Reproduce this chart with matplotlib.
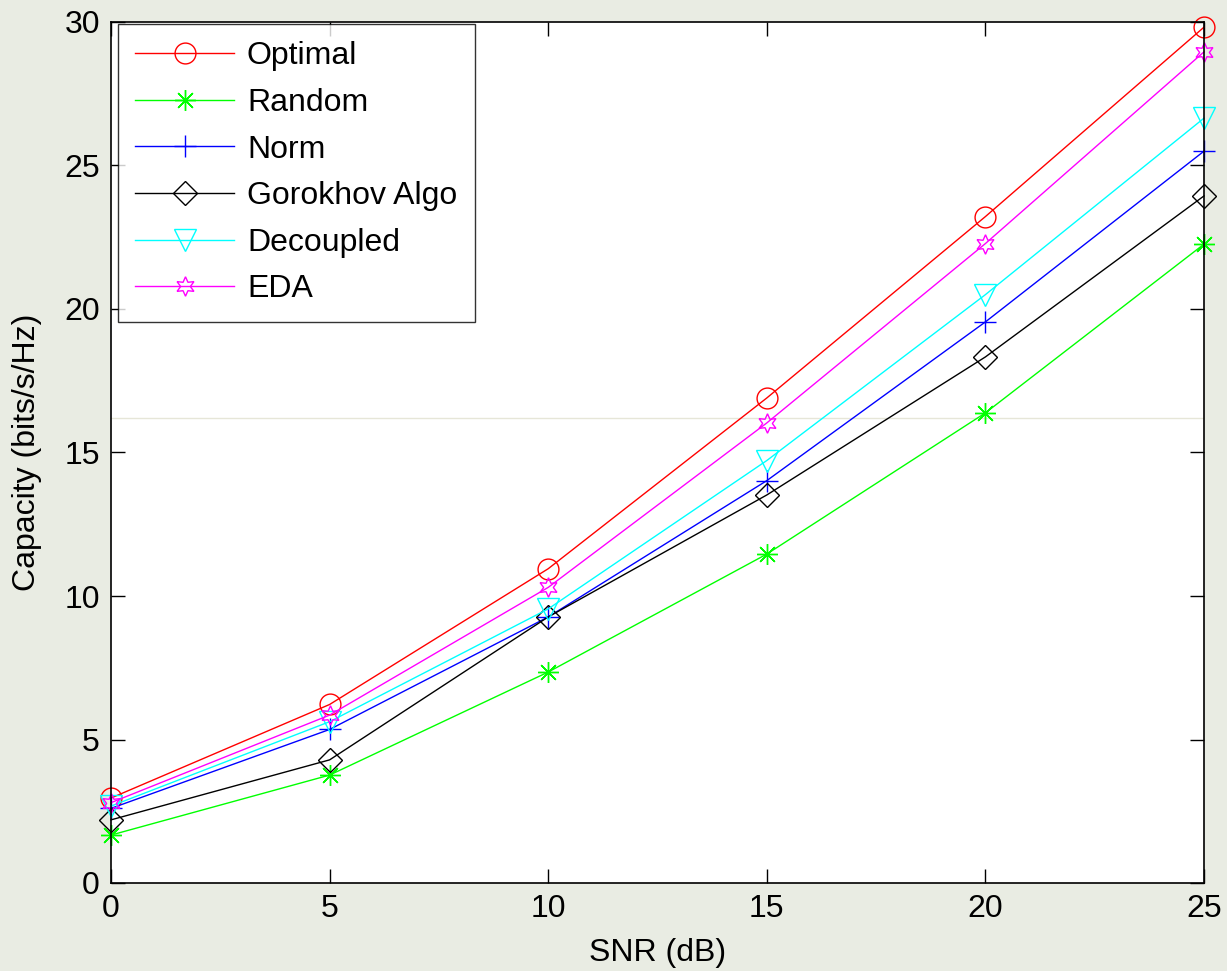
import matplotlib
matplotlib.use("Agg")
import matplotlib.pyplot as plt

plt.rcParams['font.family'] = ['Liberation Sans', 'DejaVu Sans']

snr = [0, 5, 10, 15, 20, 25]
optimal = [2.96, 6.22, 10.95, 16.9, 23.22, 29.82]
random_sel = [1.67, 3.76, 7.35, 11.46, 16.38, 22.26]
norm = [2.6, 5.35, 9.27, 14.02, 19.55, 25.5]
gorokhov = [2.2, 4.29, 9.27, 13.52, 18.33, 23.94]
decoupled = [2.68, 5.62, 9.55, 14.72, 20.5, 26.65]
eda = [2.8, 5.85, 10.3, 16.03, 22.28, 28.96]

# name, values, colour, marker, marker size
series = [
    ("Optimal", optimal, "#ff0000", "o", 15),
    ("Random", random_sel, "#00ff00", (8, 2, 0), 15),
    ("Norm", norm, "#0000ff", "+", 16),
    ("Gorokhov Algo", gorokhov, "#000000", "D", 12),
    ("Decoupled", decoupled, "#00ffff", "v", 16),
    ("EDA", eda, "#ff00ff", (6, 1, 0), 14),
]

bg = "#e9ece3"
fig = plt.figure(figsize=(12.27, 9.71), dpi=100, facecolor=bg)
ax = fig.add_axes([111 / 1227, 1 - 883 / 971, (1204 - 111) / 1227, (883 - 22) / 971])

for name, vals, col, mk, ms in series:
    ax.plot(snr, vals, color=col, marker=mk, markersize=ms,
            markerfacecolor="none", markeredgecolor=col, markeredgewidth=1.0,
            linewidth=1.0, label=name, clip_on=False)

ax.set_xlim(0, 25)
ax.set_ylim(0, 30)
ax.set_xticks(snr)
ax.set_yticks([0, 5, 10, 15, 20, 25, 30])
ax.tick_params(direction="in", length=10, width=1, labelsize=23, top=True, right=True, pad=8)
for sp in ax.spines.values():
    sp.set_linewidth(1.2)
ax.set_xlabel("SNR (dB)", fontsize=23, labelpad=10)
ax.set_ylabel("Capacity (bits/s/Hz)", fontsize=23, labelpad=16)

# faint background streak crossing the plot
ax.axhline(16.2, color="#e6e6d8", linewidth=1, zorder=0)

leg = ax.legend(loc="upper left", fontsize=23, frameon=True, fancybox=False,
                edgecolor="black", borderpad=0.55, labelspacing=0.52,
                handlelength=3.1, handletextpad=0.4, borderaxespad=0,
                bbox_to_anchor=(0.006, 0.998))
leg.get_frame().set_linewidth(1.0)

fig.savefig("out.png", dpi=100, facecolor=bg)
